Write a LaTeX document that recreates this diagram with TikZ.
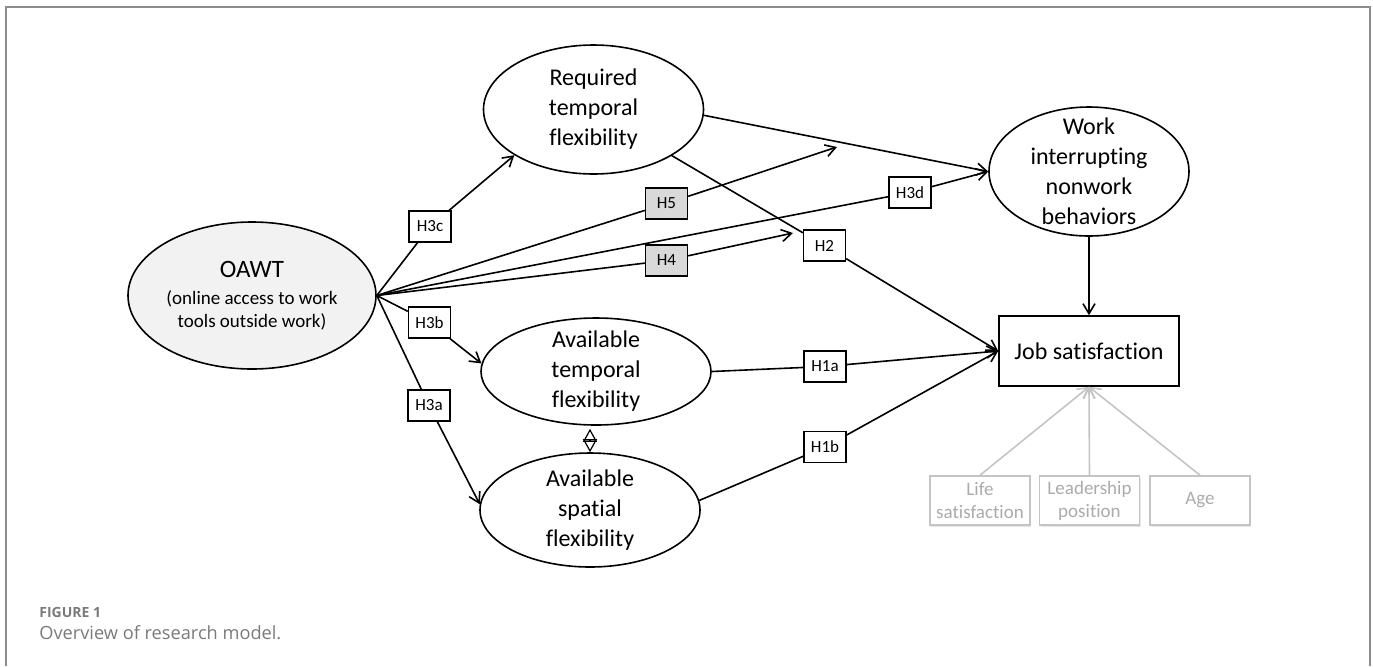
\documentclass[tikz,border=0pt]{standalone}
\usepackage{fontspec}
\setmainfont{Carlito}[Ligatures=NoCommon]
\newfontfamily\capfont{Open Sans}
\usetikzlibrary{arrows.meta,shapes.geometric,shadows}
\definecolor{framegray}{HTML}{8C8C8C}
\definecolor{ctrlgray}{HTML}{C4C4C4}
\definecolor{ctrltext}{HTML}{ABABAB}
\definecolor{hypgray}{HTML}{D9D9D9}
\definecolor{capgray}{HTML}{7A7A7A}
\definecolor{oawtfill}{HTML}{F2F2F2}

\begin{document}
\begin{tikzpicture}[x=0.5pt, y=-0.5pt,
		construct/.style={ellipse, draw, line width=0.8pt, inner xsep=0pt, inner ysep=-8pt, align=center, font=\fontsize{12}{15}\selectfont},
		hyp/.style={rectangle, draw, line width=0.7pt, fill=white, minimum width=21pt, minimum height=15.5pt, inner sep=0pt, font=\fontsize{8.5}{10}\selectfont},
		control/.style={rectangle, draw=ctrlgray, line width=0.8pt, text=ctrltext, fill=white, minimum width=50pt, minimum height=24.5pt, inner sep=0pt, align=center, font=\fontsize{9.5}{11.5}\selectfont, drop shadow={opacity=0.2, shadow xshift=0.6pt, shadow yshift=-1pt}},
		effect/.style={line width=0.8pt, -{Straight Barb[length=5pt,width=6pt]}}]
				\useasboundingbox (0,0) rectangle (1373,666);
				\draw[framegray, line width=1pt] (6,666) -- (6,7) -- (1370,7) -- (1370,666);
				\node[construct, fill=oawtfill, minimum width=124pt, minimum height=73.5pt, font=\fontsize{9.5}{11.5}\selectfont] (oawt) at (252,295.5) {{\fontsize{12.5}{14}\selectfont OAWT}\\[2pt](online access to work\\tools outside work)};
				\node[construct, minimum width=110pt, minimum height=64.5pt] (req) at (593.5,109.5) {Required\\temporal\\flexibility};
				\node[construct, minimum width=100pt, minimum height=64.5pt] (wib) at (1089,171.5) {Work\\interrupting\\nonwork\\behaviors};
				\node[construct, minimum width=115pt, minimum height=53.5pt] (avt) at (596,371.5) {Available\\temporal\\flexibility};
				\node[construct, minimum width=110pt, minimum height=57pt] (avs) at (590,510) {Available\\spatial\\flexibility};
				\node[rectangle, draw, line width=0.8pt, minimum width=90pt, minimum height=35pt, font=\fontsize{12}{15}\selectfont] (job) at (1089,351) {Job satisfaction};
				\node[hyp] (h3c) at (430,226.5) {H3c};
				\node[hyp, fill=hypgray] (h5) at (666.5,203.5) {H5};
				\node[hyp] (h3d) at (910,192.5) {H3d};
				\node[hyp, fill=hypgray] (h4) at (666.5,260.5) {H4};
				\node[hyp] (h2) at (824.5,245.5) {H2};
				\node[hyp] (h3b) at (429.5,322.5) {H3b};
				\node[hyp] (h3a) at (429,405.5) {H3a};
				\node[hyp] (h1a) at (825,366.5) {H1a};
				\node[hyp] (h1b) at (825,447) {H1b};
				\node[control] (life) at (980,500.5) {Life\\satisfaction};
				\node[control] (lead) at (1089.5,500.5) {Leadership\\position};
				\node[control] (age) at (1200,500.5) {Age};
				\coordinate (m5) at (837,147);
				\coordinate (m4) at (793,233);
				\draw[effect] (oawt.east) -- (h3c) -- (req.210);
				\draw[effect] (oawt.east) -- (h5) -- (m5);
				\draw[effect] (oawt.east) -- (h3d) -- (wib.west);
				\draw[effect] (oawt.east) -- (h4) -- (m4);
				\draw[effect] (oawt.east) -- (h3b) -- (avt.176);
				\draw[effect] (oawt.east) -- (h3a) -- (avs.177);
				\draw[effect] (req.-3) -- (wib.west);
				\draw[effect] (req) -- (h2) -- (job.west);
				\draw[effect] (avt.east) -- (h1a) -- (job.west);
				\draw[effect] (avs.5) -- (h1b) -- (job.west);
				\draw[effect] (wib) -- (job);
				\draw[{Triangle[open,length=6.5pt,width=7pt]}-{Triangle[open,length=6.5pt,width=7pt]}, line width=0.6pt, shorten <=1.5pt] (avt.south -| avs.north) -- (avs.north);
				\foreach \c in {life,lead,age}
					\draw[effect, draw=ctrlgray] (\c.north) -- (job.south);
				\node[anchor=base west, inner sep=0pt, text=capgray, font=\capfont\bfseries\fontsize{7}{8}\selectfont] (figno) at (39,617) {FIGURE 1};
				\node[anchor=base west, inner sep=0pt, text=capgray, font=\capfont\fontsize{9.1}{11}\selectfont] (figcap) at (39,639) {Overview of research model.};
			\end{tikzpicture}
\end{document}
